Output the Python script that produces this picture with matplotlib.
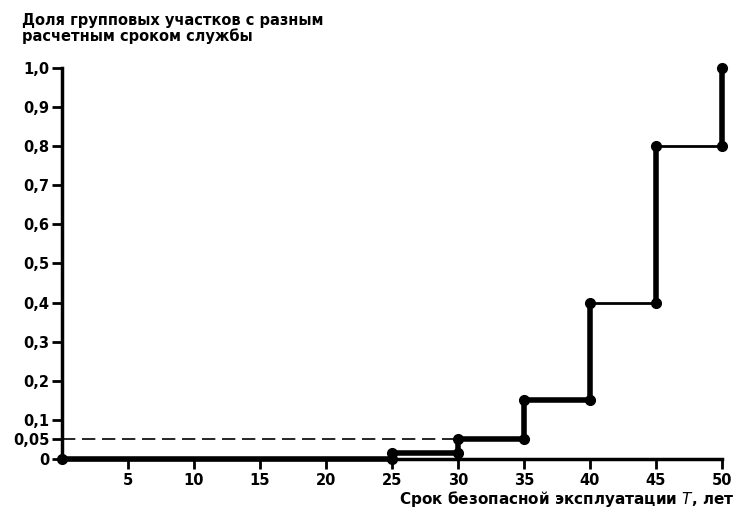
import matplotlib.pyplot as plt

plt.rcParams['font.family'] = ['DejaVu Sans']

# ступенчатая функция распределения
srok = [0, 25, 25, 30, 30, 35, 35, 40, 40, 45, 45, 50, 50]
dolya = [0, 0, 0.015, 0.015, 0.05, 0.05, 0.15, 0.15, 0.4, 0.4, 0.8, 0.8, 1.0]
tolshina = [4, 4, 4, 4, 4, 4, 4, 4, 2, 4, 2, 4]

x_ticks = [5, 10, 15, 20, 25, 30, 35, 40, 45, 50]
y_ticks = [0, 0.05, 0.1, 0.2, 0.3, 0.4, 0.5, 0.6, 0.7, 0.8, 0.9, 1.0]
y_labels = ['0', '0,05', '0,1', '0,2', '0,3', '0,4', '0,5', '0,6', '0,7', '0,8', '0,9', '1,0']
uroven = 0.05
uroven_do = 30

fig = plt.figure(figsize=(7.38, 5.15), dpi=100)
ax = fig.add_axes([0.084, 0.109, 0.894, 0.759])

ax.plot([0, uroven_do], [uroven, uroven], color='black', lw=1.2, dashes=(8, 4))

for i in range(len(srok) - 1):
    ax.plot(srok[i:i+2], dolya[i:i+2], color='black', lw=tolshina[i],
            solid_capstyle='round', clip_on=False)
ax.plot(srok, dolya, 'o', color='black', markersize=7, clip_on=False)

ax.set_xlim(0, 50)
ax.set_ylim(0, 1.0)
ax.spines['top'].set_visible(False)
ax.spines['right'].set_visible(False)
for s in ['left', 'bottom']:
    ax.spines[s].set_linewidth(2.5)

ax.set_xticks(x_ticks)
ax.set_yticks(y_ticks)
ax.set_yticklabels(y_labels)
ax.tick_params(width=2, length=7, labelsize=10.5)
for lab in ax.get_xticklabels() + ax.get_yticklabels():
    lab.set_fontweight('bold')
ax.tick_params(axis='x', pad=3)
ax.tick_params(axis='y', pad=2)

fig.text(0.03, 0.975, 'Доля групповых участков с разным\nрасчетным сроком службы',
         fontsize=10.5, fontweight='bold', va='top', ha='left', linespacing=1.0)
fig.text(0.996, 0.012, 'Срок безопасной эксплуатации $\\mathit{T}$, лет',
         fontsize=11, fontweight='bold', ha='right', va='bottom')

plt.savefig('out.png', dpi=100)
